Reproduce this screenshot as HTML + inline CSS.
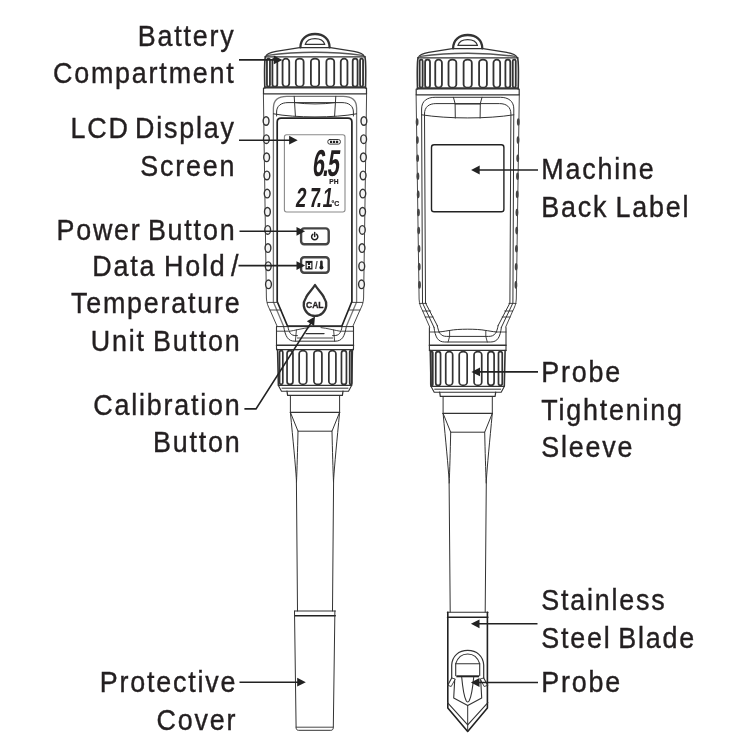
<!DOCTYPE html>
<html><head><meta charset="utf-8"><title>Diagram</title>
<style>
html,body{margin:0;padding:0;background:#fff;}
body{width:750px;height:750px;overflow:hidden;}
svg{display:block;filter:blur(0.45px);}
text{font-family:"Liberation Sans",sans-serif;fill:#231f20;stroke:#231f20;stroke-width:0.4px;}
</style></head><body>
<svg width="750" height="750" viewBox="0 0 750 750">
<rect width="750" height="750" fill="#fff"/>
<g fill="none" stroke="#333" stroke-linejoin="round" stroke-linecap="round">
<path d="M300.4,47.4 C300.4,39 306.4,34 315.0,34 C323.6,34 329.6,39 329.6,47.4" stroke-width="2.3"/>
<path d="M305.2,44.4 C306.4,40.6 310.0,38.6 315.0,38.6 C320.0,38.6 323.6,40.6 324.8,44.4 Z" stroke-width="1.2"/>
<path d="M265.8,56.5 C266.4,54 271.0,52.4 276.0,51.4 L299.6,47.6 L330.4,47.6 L354.0,51.4 C359.0,52.4 363.6,54 364.2,56.5" stroke-width="1.1"/>
<path d="M267.5,55.4 C285.0,53 300.0,52.3 315.0,52.3 C330.0,52.3 345.0,53 362.5,55.4" stroke-width="1.4" stroke="#555"/>
<path d="M265.0,56.8 H365.0" stroke-width="1.3"/>
<path d="M265.4,56.6 C264.6,60 264.6,80 264.8,88" stroke-width="1.6"/>
<path d="M364.9,56.6 C365.7,60 365.7,80 365.5,88" stroke-width="1.6"/>
<rect x="266.95" y="58.6" width="2.99" height="28.00" rx="1.50" ry="1.50" stroke-width="1.8"/>
<rect x="272.41" y="58.6" width="4.89" height="28.00" rx="2.44" ry="2.44" stroke-width="1.8"/>
<rect x="282.56" y="58.6" width="6.67" height="28.00" rx="3.33" ry="3.20" stroke-width="1.8"/>
<rect x="295.81" y="58.6" width="7.81" height="28.00" rx="3.90" ry="3.20" stroke-width="1.8"/>
<rect x="310.90" y="58.6" width="8.20" height="28.00" rx="4.10" ry="3.20" stroke-width="1.8"/>
<rect x="326.38" y="58.6" width="7.81" height="28.00" rx="3.90" ry="3.20" stroke-width="1.8"/>
<rect x="340.77" y="58.6" width="6.67" height="28.00" rx="3.33" ry="3.20" stroke-width="1.8"/>
<rect x="352.70" y="58.6" width="4.89" height="28.00" rx="2.44" ry="2.44" stroke-width="1.8"/>
<rect x="360.06" y="58.6" width="2.99" height="28.00" rx="1.50" ry="1.50" stroke-width="1.8"/>
<path d="M265.0,87.2 H365.0" stroke-width="1.8" stroke="#3a3a3a"/>
<rect x="263.5" y="88" width="103" height="5.8" stroke-width="1.2"/>
<path d="M263.4,93.8 L266.4,298 C266.6,303 268.0,306 270.0,310 L277.0,326" stroke-width="0.9"/>
<path d="M366.6,93.8 L363.6,298 C363.4,303 362.0,306 360.0,310 L353.0,326" stroke-width="0.9"/>
<path d="M283.6,326.3 L273.4,302 L273.4,108 C273.4,100 278.9,96.3 286.9,96.3 L343.1,96.3 C351.1,96.3 356.6,100 356.6,108 L356.6,302 L346.4,326.3" stroke="#777" stroke-width="1.3"/>
<path d="M276.6,116 L276.6,112 C276.6,106 281.0,102.6 288.0,102.6 L342.0,102.6 C349.0,102.6 353.4,106 353.4,112 L353.4,116" stroke-width="1"/>
<path d="M273.4,113.8 C295.0,118 335.0,118 356.6,113.8" stroke-width="1"/>
<path d="M294.2,96.3 L295.4,116.2 M335.8,96.3 L334.6,116.2" stroke-width="1"/>
<path d="M294.5,102.6 C307.0,104.4 323.0,104.4 335.5,102.6" stroke-width="1"/>
<path d="M276.5,326.5 V349.6 M353.5,326.5 V349.6" stroke-width="1.1"/>
<path d="M276.5,326.6 H353.5" stroke-width="1"/>
<path d="M276.5,331.2 H288.0 M353.5,331.2 H342.0" stroke-width="0.9"/>
<path d="M276.5,345.3 H353.5" stroke-width="1.5"/>
<path d="M276.5,349.6 H353.5" stroke-width="1.1"/>
<path d="M283.6,326.3 C285.5,337 288.0,341.2 295.0,341.2 L335.0,341.2 C342.0,341.2 344.5,337 346.4,326.3" stroke-width="1"/>
<path d="M288.0,327 C289.0,333 291.0,335.6 296.0,335.6 L297.4,335.6 M342.0,327 C341.0,333 339.0,335.6 334.0,335.6 L332.6,335.6" stroke-width="1"/>
<path d="M289.0,331.4 C295.0,330.4 303.0,328.2 309.0,327.6 M341.0,331.4 C335.0,330.4 327.0,328.2 321.0,327.6" stroke-width="0.9"/>
<path d="M296.4,330 L295.4,341.2 M333.6,330 L334.6,341.2" stroke-width="0.9"/>
<path d="M306.0,333.6 H324.0" stroke-width="1.4"/>
<path d="M297.4,338 H332.6" stroke-width="0.9"/>
<path d="M277.6,349.6 L278.4,385 M352.4,349.6 L351.6,385" stroke-width="1.6"/>
<rect x="279.57" y="350.6" width="3.25" height="33.80" rx="1.63" ry="1.63" stroke-width="1.7"/>
<rect x="287.05" y="350.6" width="5.90" height="33.80" rx="2.95" ry="2.95" stroke-width="1.7"/>
<rect x="299.17" y="350.6" width="7.56" height="33.80" rx="3.78" ry="3.20" stroke-width="1.7"/>
<rect x="313.92" y="350.6" width="7.98" height="33.80" rx="3.99" ry="3.20" stroke-width="1.7"/>
<rect x="328.84" y="350.6" width="7.06" height="33.80" rx="3.53" ry="3.20" stroke-width="1.7"/>
<rect x="341.47" y="350.6" width="4.98" height="33.80" rx="2.49" ry="2.49" stroke-width="1.7"/>
<rect x="349.70" y="350.6" width="2.07" height="33.80" rx="1.04" ry="1.04" stroke-width="1.7"/>
<path d="M278.4,385.4 H351.6" stroke-width="1.3"/>
<path d="M278.4,385.4 L281.5,391.2 H348.5 L351.6,385.4" stroke-width="1.1"/>
<path d="M282.0,388.2 H348.0" stroke-width="1"/>
<path d="M287.0,391.2 L287.6,395.4 H342.4 L343.0,391.2" stroke-width="1.2"/>
<path d="M290.4,395.4 L290.4,412.4 M339.6,395.4 L339.6,412.4" stroke-width="1"/>
<path d="M290.4,412.4 H339.6" stroke-width="1.3"/>
<path d="M290.4,412.4 L298.0,431.2 H332.0 L339.6,412.4" stroke-width="1"/>
<path d="M290.4,412.4 C293.0,440 295.5,465 296.4,480 L297.5,611 M339.6,412.4 C337.0,440 334.5,465 333.6,480 L332.5,611" stroke-width="1"/>
<path d="M298.0,431.2 C297.6,450 297.0,470 296.5,482 M332.0,431.2 C332.4,450 333.0,470 333.5,482" stroke-width="1"/>
<ellipse cx="266.10" cy="121.00" rx="2.9" ry="4.3" stroke-width="1.4" fill="#f4f4f4"/>
<ellipse cx="363.90" cy="121.00" rx="2.9" ry="4.3" stroke-width="1.4" fill="#f4f4f4"/>
<ellipse cx="266.37" cy="139.15" rx="2.9" ry="4.3" stroke-width="1.4" fill="#f4f4f4"/>
<ellipse cx="363.63" cy="139.15" rx="2.9" ry="4.3" stroke-width="1.4" fill="#f4f4f4"/>
<ellipse cx="266.63" cy="157.30" rx="2.9" ry="4.3" stroke-width="1.4" fill="#f4f4f4"/>
<ellipse cx="363.37" cy="157.30" rx="2.9" ry="4.3" stroke-width="1.4" fill="#f4f4f4"/>
<ellipse cx="266.90" cy="175.45" rx="2.9" ry="4.3" stroke-width="1.4" fill="#f4f4f4"/>
<ellipse cx="363.10" cy="175.45" rx="2.9" ry="4.3" stroke-width="1.4" fill="#f4f4f4"/>
<ellipse cx="267.17" cy="193.60" rx="2.9" ry="4.3" stroke-width="1.4" fill="#f4f4f4"/>
<ellipse cx="362.83" cy="193.60" rx="2.9" ry="4.3" stroke-width="1.4" fill="#f4f4f4"/>
<ellipse cx="267.43" cy="211.75" rx="2.9" ry="4.3" stroke-width="1.4" fill="#f4f4f4"/>
<ellipse cx="362.57" cy="211.75" rx="2.9" ry="4.3" stroke-width="1.4" fill="#f4f4f4"/>
<ellipse cx="267.70" cy="229.90" rx="2.9" ry="4.3" stroke-width="1.4" fill="#f4f4f4"/>
<ellipse cx="362.30" cy="229.90" rx="2.9" ry="4.3" stroke-width="1.4" fill="#f4f4f4"/>
<ellipse cx="267.97" cy="248.05" rx="2.9" ry="4.3" stroke-width="1.4" fill="#f4f4f4"/>
<ellipse cx="362.03" cy="248.05" rx="2.9" ry="4.3" stroke-width="1.4" fill="#f4f4f4"/>
<ellipse cx="268.24" cy="266.20" rx="2.9" ry="4.3" stroke-width="1.4" fill="#f4f4f4"/>
<ellipse cx="361.76" cy="266.20" rx="2.9" ry="4.3" stroke-width="1.4" fill="#f4f4f4"/>
<ellipse cx="268.50" cy="284.35" rx="2.9" ry="4.3" stroke-width="1.4" fill="#f4f4f4"/>
<ellipse cx="361.50" cy="284.35" rx="2.9" ry="4.3" stroke-width="1.4" fill="#f4f4f4"/>
<path d="M277.2,122 C277.2,119.4 278.6,118.2 281.1,118.2 L348.0,118.2 C350.5,118.2 351.9,119.4 351.9,122 L351.9,301.5 L341.9,326 L287.5,326 L277.2,301.5 Z" stroke="#222" stroke-width="1.7"/>
<path d="M267.4,302.4 L277.6,302.4 M270.0,310 L281.0,310 M362.6,302.4 L352.4,302.4 M360.0,310 L349.0,310" stroke-width="0.9"/>
<rect x="284.4" y="134.8" width="60.6" height="77.2" rx="2.2" stroke="#8a8a8a" stroke-width="1.1"/>
<rect x="327.8" y="139.5" width="12.6" height="4.6" rx="2" stroke="#222" stroke-width="0.9"/>
<path d="M330.0,141.8 H338.2" stroke="#222" stroke-width="2.2" stroke-dasharray="2.2 0.8" stroke-linecap="butt"/>
<rect x="301.1" y="228.4" width="27.6" height="15.8" rx="3" stroke="#444" stroke-width="2.4"/>
<path d="M312.8,234.3 A3.1,3.1 0 1 0 316.6,234.3 M314.7,232.6 V236.6" stroke="#222" stroke-width="1.5"/>
<rect x="301.1" y="257.2" width="27.6" height="15.6" rx="3" stroke="#444" stroke-width="2.4"/>
<rect x="305.5" y="260.9" width="7" height="8.6" fill="#222" stroke="none"/>
<path d="M321.4,261.8 V267" stroke="#222" stroke-width="2.6"/>
<circle cx="321.4" cy="267.6" r="2" fill="#222" stroke="none"/>
<path d="M315.0,285.0 C312.0,290.0 306.77,294.59 305.77,298.09 A11.3,11.3 0 1 0 324.23,298.09 C323.23,294.59 318.0,290.0 315.0,285.0 Z" stroke="#333" stroke-width="2.3"/>
<path d="M294.6,611 H335.4" stroke-width="1.1"/>
<path d="M294.8,615.8 H335.2" stroke="#222" stroke-width="1.6"/>
<path d="M294.5,611 L296.1,727.6 C296.2,729.4 297.0,730.3 298.6,730.3 L330.8,730.3 C332.4,730.3 333.2,729.4 333.3,727.6 L334.9,611" stroke-width="1"/>
<path d="M296.1,727.2 H333.3" stroke-width="0.9"/>
<g transform="translate(0,1)">
<path d="M453.09999999999997,47.4 C453.09999999999997,39 459.09999999999997,34 467.7,34 C476.3,34 482.3,39 482.3,47.4" stroke-width="2.3"/>
<path d="M457.9,44.4 C459.09999999999997,40.6 462.7,38.6 467.7,38.6 C472.7,38.6 476.3,40.6 477.5,44.4 Z" stroke-width="1.2"/>
<path d="M418.5,56.5 C419.09999999999997,54 423.7,52.4 428.7,51.4 L452.3,47.6 L483.09999999999997,47.6 L506.7,51.4 C511.7,52.4 516.3,54 516.9,56.5" stroke-width="1.1"/>
<path d="M420.2,55.4 C437.7,53 452.7,52.3 467.7,52.3 C482.7,52.3 497.7,53 515.2,55.4" stroke-width="1.4" stroke="#555"/>
<path d="M417.7,56.8 H517.7" stroke-width="1.3"/>
<path d="M418.09999999999997,56.6 C417.3,60 417.3,80 417.5,88" stroke-width="1.6"/>
<path d="M517.6,56.6 C518.4,60 518.4,80 518.2,88" stroke-width="1.6"/>
<rect x="419.65" y="58.6" width="2.99" height="28.00" rx="1.50" ry="1.50" stroke-width="1.8"/>
<rect x="425.11" y="58.6" width="4.89" height="28.00" rx="2.44" ry="2.44" stroke-width="1.8"/>
<rect x="435.26" y="58.6" width="6.67" height="28.00" rx="3.33" ry="3.20" stroke-width="1.8"/>
<rect x="448.51" y="58.6" width="7.81" height="28.00" rx="3.90" ry="3.20" stroke-width="1.8"/>
<rect x="463.60" y="58.6" width="8.20" height="28.00" rx="4.10" ry="3.20" stroke-width="1.8"/>
<rect x="479.08" y="58.6" width="7.81" height="28.00" rx="3.90" ry="3.20" stroke-width="1.8"/>
<rect x="493.47" y="58.6" width="6.67" height="28.00" rx="3.33" ry="3.20" stroke-width="1.8"/>
<rect x="505.40" y="58.6" width="4.89" height="28.00" rx="2.44" ry="2.44" stroke-width="1.8"/>
<rect x="512.76" y="58.6" width="2.99" height="28.00" rx="1.50" ry="1.50" stroke-width="1.8"/>
<path d="M417.7,87.2 H517.7" stroke-width="1.8" stroke="#3a3a3a"/>
<rect x="416.2" y="88" width="103" height="5.8" stroke-width="1.2"/>
<path d="M416.09999999999997,93.8 L419.09999999999997,298 C419.3,303 420.7,306 422.7,310 L429.7,326" stroke-width="0.9"/>
<path d="M519.3,93.8 L516.3,298 C516.1,303 514.7,306 512.7,310 L505.7,326" stroke-width="0.9"/>
<path d="M434.0,326.3 L422.5,302 L421.59999999999997,108 C421.59999999999997,100 427.09999999999997,96.3 435.09999999999997,96.3 L500.29999999999995,96.3 C508.29999999999995,96.3 513.8,100 513.8,108 L512.9,302 L501.4,326.3" stroke-width="1"/>
<path d="M437.2,324.4 L425.5,302 L424.5,113 C424.5,106 428.9,102.6 435.9,102.6 L499.5,102.6 C506.5,102.6 510.9,106 510.9,113 L509.9,302 L498.2,324.4" stroke-width="1"/>
<path d="M421.59999999999997,113.8 C447.7,118 487.7,118 513.8,113.8" stroke-width="1"/>
<path d="M453.4,96.3 L455.09999999999997,102.6 L455.3,117 M482.0,96.3 L480.3,102.6 L480.09999999999997,117" stroke-width="1"/>
<path d="M455.09999999999997,102.8 H480.3" stroke-width="1.2"/>
<path d="M429.4,326.6 V349.6 M506.0,326.6 V349.6" stroke-width="1.1"/>
<path d="M429.4,331 H438.7 M506.0,331 H496.7" stroke-width="0.9"/>
<path d="M429.4,344.2 H506.0" stroke-width="1.5"/>
<path d="M429.4,349.4 H506.0" stroke-width="1.1"/>
<path d="M434.0,326.3 C435.2,336 437.7,341 444.7,341 L490.7,341 C497.7,341 500.2,336 501.4,326.3" stroke-width="1"/>
<path d="M437.2,324.4 C438.7,332 440.7,335.4 446.7,335.4 L488.7,335.4 C494.7,335.4 496.7,332 498.2,324.4" stroke-width="1"/>
<path d="M438.7,331 C443.7,330.6 447.7,329.6 450.09999999999997,329.4 C457.7,327.8 477.7,327.8 485.3,329.4 C487.7,329.6 491.7,330.6 496.7,331" stroke-width="1"/>
<path d="M449.59999999999997,329.4 L449.59999999999997,335.4 L448.09999999999997,341 M485.8,329.4 L485.8,335.4 L487.3,341" stroke-width="0.9"/>
<path d="M430.3,349.6 L431.09999999999997,385 M505.09999999999997,349.6 L504.3,385" stroke-width="1.6"/>
<rect x="430.80" y="350.6" width="2.00" height="33.80" rx="1.00" ry="1.00" stroke-width="1.7"/>
<rect x="435.74" y="350.6" width="4.81" height="33.80" rx="2.41" ry="2.41" stroke-width="1.7"/>
<rect x="445.74" y="350.6" width="6.93" height="33.80" rx="3.46" ry="3.20" stroke-width="1.7"/>
<rect x="459.22" y="350.6" width="7.94" height="33.80" rx="3.97" ry="3.20" stroke-width="1.7"/>
<rect x="474.05" y="350.6" width="7.69" height="33.80" rx="3.85" ry="3.20" stroke-width="1.7"/>
<rect x="487.88" y="350.6" width="6.22" height="33.80" rx="3.11" ry="3.11" stroke-width="1.7"/>
<rect x="498.49" y="350.6" width="3.76" height="33.80" rx="1.88" ry="1.88" stroke-width="1.7"/>
<path d="M431.09999999999997,385.4 H504.3" stroke-width="1.3"/>
<path d="M431.09999999999997,385.4 L434.2,391.2 H501.2 L504.3,385.4" stroke-width="1.1"/>
<path d="M434.7,388.2 H500.7" stroke-width="1"/>
<path d="M439.7,391.2 L440.3,395.4 H495.09999999999997 L495.7,391.2" stroke-width="1.2"/>
<path d="M443.09999999999997,395.4 L443.09999999999997,412.4 M492.3,395.4 L492.3,412.4" stroke-width="1"/>
<path d="M443.09999999999997,412.4 H492.3" stroke-width="1.3"/>
<path d="M443.09999999999997,412.4 L450.7,431.2 H484.7 L492.3,412.4" stroke-width="1"/>
<path d="M443.09999999999997,412.4 C445.7,440 448.2,465 449.09999999999997,480 L450.2,611 M492.3,412.4 C489.7,440 487.2,465 486.3,480 L485.2,611" stroke-width="1"/>
<path d="M450.7,431.2 C450.3,450 449.7,470 449.2,482 M484.7,431.2 C485.09999999999997,450 485.7,470 486.2,482" stroke-width="1"/>
</g>
<ellipse cx="417.11" cy="122.00" rx="1.4" ry="3.8" stroke="none" fill="#444"/>
<ellipse cx="518.29" cy="122.00" rx="1.4" ry="3.8" stroke="none" fill="#444"/>
<ellipse cx="417.38" cy="140.10" rx="1.4" ry="3.8" stroke="none" fill="#444"/>
<ellipse cx="518.02" cy="140.10" rx="1.4" ry="3.8" stroke="none" fill="#444"/>
<ellipse cx="417.65" cy="158.20" rx="1.4" ry="3.8" stroke="none" fill="#444"/>
<ellipse cx="517.75" cy="158.20" rx="1.4" ry="3.8" stroke="none" fill="#444"/>
<ellipse cx="417.91" cy="176.30" rx="1.4" ry="3.8" stroke="none" fill="#444"/>
<ellipse cx="517.49" cy="176.30" rx="1.4" ry="3.8" stroke="none" fill="#444"/>
<ellipse cx="418.18" cy="194.40" rx="1.4" ry="3.8" stroke="none" fill="#444"/>
<ellipse cx="517.22" cy="194.40" rx="1.4" ry="3.8" stroke="none" fill="#444"/>
<ellipse cx="418.45" cy="212.50" rx="1.4" ry="3.8" stroke="none" fill="#444"/>
<ellipse cx="516.95" cy="212.50" rx="1.4" ry="3.8" stroke="none" fill="#444"/>
<ellipse cx="418.71" cy="230.60" rx="1.4" ry="3.8" stroke="none" fill="#444"/>
<ellipse cx="516.69" cy="230.60" rx="1.4" ry="3.8" stroke="none" fill="#444"/>
<ellipse cx="418.98" cy="248.70" rx="1.4" ry="3.8" stroke="none" fill="#444"/>
<ellipse cx="516.42" cy="248.70" rx="1.4" ry="3.8" stroke="none" fill="#444"/>
<ellipse cx="419.24" cy="266.80" rx="1.4" ry="3.8" stroke="none" fill="#444"/>
<ellipse cx="516.16" cy="266.80" rx="1.4" ry="3.8" stroke="none" fill="#444"/>
<ellipse cx="419.51" cy="284.90" rx="1.4" ry="3.8" stroke="none" fill="#444"/>
<ellipse cx="515.89" cy="284.90" rx="1.4" ry="3.8" stroke="none" fill="#444"/>
<path d="M419.3,303.4 L426.5,303.4 M422.7,311 L430.7,311 M425.2,317 L433.2,317 M516.1,303.4 L508.9,303.4 M512.7,311 L504.7,311 M510.2,317 L502.2,317" stroke-width="0.9"/>
<rect x="431.5" y="144.8" width="72.4" height="67" rx="2.6" stroke="#222" stroke-width="1.4"/>
<path d="M447.3,612.2 H488.09999999999997" stroke-width="1.1"/>
<path d="M447.5,617.2 H487.9" stroke="#222" stroke-width="1.5"/>
<path d="M447.8,612.2 L447.8,708 L467.7,731.4 L487.4,708 L487.4,612.2" stroke="#222" stroke-width="1.6"/>
<path d="M447.5,702.6 L467.7,724.8 L487.9,702.6" stroke-width="1.1"/>
<path d="M467.7,705.4 V731" stroke-width="1"/>
<path d="M451.7,678 L451.7,665 C452.2,656 458.7,650.4 467.7,650.4 C476.7,650.4 483.2,656 483.7,665 L483.7,678" stroke-width="1.2"/>
<path d="M455.7,675.6 L455.7,663.7 C457.7,657.5 462.2,654 467.7,654 C473.2,654 477.7,657.5 479.7,663.7 L479.7,675.6" stroke-width="1.1"/>
<path d="M455.7,663.7 H479.7" stroke-width="1.1"/>
<path d="M456.3,676.3 H479.09999999999997" stroke="#222" stroke-width="2" stroke-linecap="butt"/>
<path d="M451.7,678 L447.7,685.3 M483.7,678 L487.7,685.3" stroke-width="1.1"/>
<path d="M451.7,678 L455.3,679 L451.2,686.5 L447.7,685.3 M483.7,678 L480.09999999999997,679 L484.2,686.5 L487.7,685.3" stroke-width="0.9"/>
<path d="M454.7,680 L453.7,698 L467.7,705.4 L481.7,698 L480.7,680" stroke-width="1.1"/>
<path d="M461.7,677.3 C462.7,688 464.3,697 466.09999999999997,700.6 C466.9,702.4 468.5,702.4 469.3,700.6 C471.09999999999997,697 472.7,688 473.7,677.3" stroke-width="1.1"/>
</g>
<g font-weight="bold" style="fill:#222">
<text transform="matrix(0.58,0,-0.13,1,0,175.5)" x="537.41 555.17 562.76" y="0" font-size="37.5" style="stroke:none">6.5</text>
<text x="329.3" y="184" font-size="6.8" textLength="9.2" lengthAdjust="spacingAndGlyphs" style="stroke-width:0.2px">PH</text>
<text transform="matrix(0.68,0,-0.13,1,0,207.0)" x="433.82 453.53 464.71 473.24" y="0" font-size="27.5" style="stroke:none">27.1</text>
<text x="331.5" y="206" font-size="7.4" textLength="7.8" lengthAdjust="spacingAndGlyphs" style="stroke-width:0.2px">°C</text>
<text x="314.8" y="308.1" font-size="8.6" text-anchor="middle" letter-spacing="0" style="stroke-width:0.3px">CAL</text>
<text x="309" y="268" font-size="7.6" text-anchor="middle" style="fill:#fff;stroke:none">H</text>
<text x="316.3" y="269" font-size="10" text-anchor="middle" font-weight="bold" style="fill:#444;stroke:none">/</text>
</g>
<path d="M239,59.9 H274.79999999999995" stroke="#222" stroke-width="1.6" fill="none"/>
<path d="M282.4,59.9 L273.79999999999995,55.5 L273.79999999999995,64.3 Z" fill="#222"/>
<path d="M239,140.2 H290.09999999999997" stroke="#222" stroke-width="1.6" fill="none"/>
<path d="M297.7,140.2 L289.09999999999997,135.79999999999998 L289.09999999999997,144.6 Z" fill="#222"/>
<path d="M239.5,231.3 H297.5" stroke="#222" stroke-width="1.6" fill="none"/>
<path d="M305.1,231.3 L296.5,226.9 L296.5,235.70000000000002 Z" fill="#222"/>
<path d="M238.5,265.6 H297.5" stroke="#222" stroke-width="1.6" fill="none"/>
<path d="M305.1,265.6 L296.5,261.20000000000005 L296.5,270.0 Z" fill="#222"/>
<path d="M239.5,682.2 H298.2" stroke="#222" stroke-width="1.6" fill="none"/>
<path d="M305.8,682.2 L297.2,677.8000000000001 L297.2,686.6 Z" fill="#222"/>
<path d="M538,170 H478.70000000000005" stroke="#222" stroke-width="1.6" fill="none"/>
<path d="M471.1,170 L479.70000000000005,165.6 L479.70000000000005,174.4 Z" fill="#222"/>
<path d="M538,371.9 H479.0" stroke="#222" stroke-width="1.6" fill="none"/>
<path d="M471.4,371.9 L480.0,367.5 L480.0,376.29999999999995 Z" fill="#222"/>
<path d="M537.5,623.8 H478.5" stroke="#222" stroke-width="1.6" fill="none"/>
<path d="M470.9,623.8 L479.5,619.4 L479.5,628.1999999999999 Z" fill="#222"/>
<path d="M538,682.5 H478.5" stroke="#222" stroke-width="1.6" fill="none"/>
<path d="M470.9,682.5 L479.5,678.1 L479.5,686.9 Z" fill="#222"/>
<path d="M244.4,408.9 H256.0 L311.01,322.84" stroke="#222" stroke-width="1.6" fill="none" stroke-linejoin="miter"/>
<path d="M315.0,316.6 L314.10,325.99 L306.85,321.36 Z" fill="#222"/>
<text transform="translate(235.60000000000002,45.5) scale(0.94,1)" font-size="28.6" text-anchor="end" letter-spacing="1.915" word-spacing="0.000">Battery</text>
<text transform="translate(235.60000000000002,83.0) scale(0.94,1)" font-size="28.6" text-anchor="end" letter-spacing="1.915" word-spacing="0.000">Compartment</text>
<text transform="translate(235.8,138.1) scale(0.94,1)" font-size="28.6" text-anchor="end" letter-spacing="1.915" word-spacing="-4.255">LCD Display</text>
<text transform="translate(236.20000000000002,176.2) scale(0.94,1)" font-size="28.6" text-anchor="end" letter-spacing="1.915" word-spacing="0.000">Screen</text>
<text transform="translate(236.4,240.0) scale(0.94,1)" font-size="28.6" text-anchor="end" letter-spacing="1.915" word-spacing="-3.191">Power Button</text>
<text transform="translate(240.20000000000002,275.8) scale(0.94,1)" font-size="28.6" text-anchor="end" letter-spacing="1.915" word-spacing="-1.596">Data Hold<tspan dx="-3.6"> /</tspan></text>
<text transform="translate(241.60000000000002,312.8) scale(0.94,1)" font-size="28.6" text-anchor="end" letter-spacing="1.915" word-spacing="0.000">Temperature</text>
<text transform="translate(241.60000000000002,350.8) scale(0.94,1)" font-size="28.6" text-anchor="end" letter-spacing="1.915" word-spacing="-2.128">Unit Button</text>
<text transform="translate(241.60000000000002,415.0) scale(0.94,1)" font-size="28.6" text-anchor="end" letter-spacing="1.915" word-spacing="0.000">Calibration</text>
<text transform="translate(241.60000000000002,452.3) scale(0.94,1)" font-size="28.6" text-anchor="end" letter-spacing="1.915" word-spacing="0.000">Button</text>
<text transform="translate(237.20000000000002,692.1) scale(0.94,1)" font-size="28.6" text-anchor="end" letter-spacing="1.915" word-spacing="0.000">Protective</text>
<text transform="translate(237.20000000000002,730.2) scale(0.94,1)" font-size="28.6" text-anchor="end" letter-spacing="1.915" word-spacing="0.000">Cover</text>
<text transform="translate(541.2,179.3) scale(0.94,1)" font-size="28.6" text-anchor="start" letter-spacing="1.915" word-spacing="0.000">Machine</text>
<text transform="translate(541.2,217.2) scale(0.94,1)" font-size="28.6" text-anchor="start" letter-spacing="1.915" word-spacing="-2.128">Back Label</text>
<text transform="translate(541.2,381.8) scale(0.94,1)" font-size="28.6" text-anchor="start" letter-spacing="1.915" word-spacing="0.000">Probe</text>
<text transform="translate(541.2,419.5) scale(0.94,1)" font-size="28.6" text-anchor="start" letter-spacing="1.915" word-spacing="0.000">Tightening</text>
<text transform="translate(541.2,457.0) scale(0.94,1)" font-size="28.6" text-anchor="start" letter-spacing="1.915" word-spacing="0.000">Sleeve</text>
<text transform="translate(541.2,610.1) scale(0.94,1)" font-size="28.6" text-anchor="start" letter-spacing="1.915" word-spacing="0.000">Stainless</text>
<text transform="translate(541.2,647.6) scale(0.94,1)" font-size="28.6" text-anchor="start" letter-spacing="1.915" word-spacing="-2.660">Steel Blade</text>
<text transform="translate(541.2,691.8) scale(0.94,1)" font-size="28.6" text-anchor="start" letter-spacing="1.915" word-spacing="0.000">Probe</text>
</svg>
</body></html>
